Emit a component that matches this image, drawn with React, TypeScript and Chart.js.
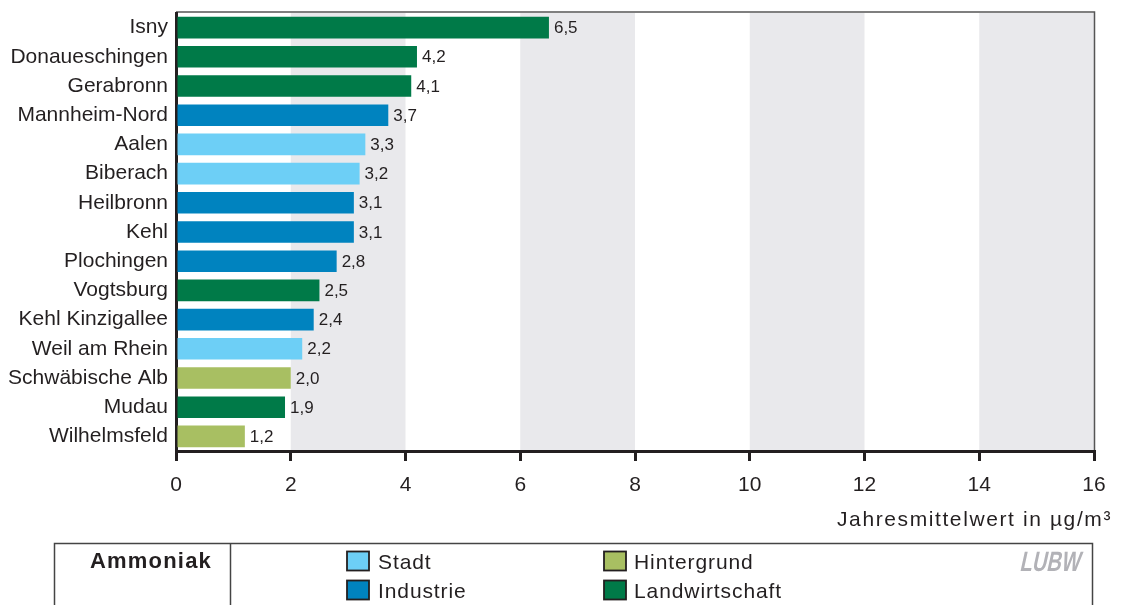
import React, { useEffect, useRef } from "react";
import { Chart, registerables } from "chart.js";

Chart.register(...registerables);

// Stations and annual mean ammonia concentrations
const stations = [
  "Isny",
  "Donaueschingen",
  "Gerabronn",
  "Mannheim-Nord",
  "Aalen",
  "Biberach",
  "Heilbronn",
  "Kehl",
  "Plochingen",
  "Vogtsburg",
  "Kehl Kinzigallee",
  "Weil am Rhein",
  "Schwäbische Alb",
  "Mudau",
  "Wilhelmsfeld",
];
const values = [6.5, 4.2, 4.1, 3.7, 3.3, 3.2, 3.1, 3.1, 2.8, 2.5, 2.4, 2.2, 2.0, 1.9, 1.2];
const stationTypes = [
  "Landwirtschaft",
  "Landwirtschaft",
  "Landwirtschaft",
  "Industrie",
  "Stadt",
  "Stadt",
  "Industrie",
  "Industrie",
  "Industrie",
  "Landwirtschaft",
  "Industrie",
  "Stadt",
  "Hintergrund",
  "Landwirtschaft",
  "Hintergrund",
];

const typeColors: Record<string, string> = {
  Stadt: "#6dcff6",
  Industrie: "#0083bf",
  Hintergrund: "#a8bf62",
  Landwirtschaft: "#007a48",
};

// Shaded background stripes on the value axis
const bandStarts = [2, 6, 10, 14];
const bandEnds = [4, 8, 12, 16];

const xMin = 0;
const xMax = 16;
const xStep = 2;
const axisTitle = "Jahresmittelwert in µg/m³";
const legendTitle = "Ammoniak";
const legendColumns = [
  ["Stadt", "Industrie"],
  ["Hintergrund", "Landwirtschaft"],
];

const FONT = "'Liberation Sans', Arial, sans-serif";
const INK = "#231f20";

const decorPlugin = {
  id: "decor",
  beforeDraw(chart: any) {
    const { ctx, chartArea, scales } = chart;
    const x = scales.x;
    ctx.save();
    ctx.fillStyle = "#e9e9ec";
    bandStarts.forEach((s, i) => {
      const x0 = x.getPixelForValue(s);
      const x1 = x.getPixelForValue(bandEnds[i]);
      ctx.fillRect(x0, chartArea.top, x1 - x0, chartArea.bottom - chartArea.top);
    });
    // thin frame on top and right
    ctx.strokeStyle = "#555";
    ctx.lineWidth = 1.5;
    ctx.beginPath();
    ctx.moveTo(chartArea.left, chartArea.top - 1);
    ctx.lineTo(chartArea.right + 0.5, chartArea.top - 1);
    ctx.lineTo(chartArea.right + 0.5, chartArea.bottom);
    ctx.stroke();
    ctx.restore();
  },
  afterDatasetsDraw(chart: any) {
    const { ctx } = chart;
    const meta = chart.getDatasetMeta(0);
    ctx.save();
    ctx.font = `17px ${FONT}`;
    ctx.fillStyle = INK;
    ctx.textBaseline = "middle";
    ctx.textAlign = "left";
    meta.data.forEach((bar: any, i: number) => {
      const txt = values[i].toFixed(1).replace(".", ",");
      ctx.fillText(txt, bar.x + 5, bar.y + 1);
    });
    ctx.restore();
  },
  afterDraw(chart: any) {
    const { ctx } = chart;
    ctx.save();
    // axis title, right aligned under the axis
    ctx.font = `21px ${FONT}`;
    (ctx as any).letterSpacing = "1.6px";
    ctx.fillStyle = INK;
    ctx.textAlign = "right";
    ctx.textBaseline = "middle";
    ctx.fillText(axisTitle, 1112, 520);

    // legend box
    const boxL = 54.5;
    const boxR = 1092.5;
    const boxT = 543.5;
    const boxB = 640;
    ctx.strokeStyle = "#444";
    ctx.lineWidth = 1.5;
    ctx.strokeRect(boxL, boxT, boxR - boxL, boxB - boxT);
    ctx.beginPath();
    ctx.moveTo(230.5, boxT);
    ctx.lineTo(230.5, boxB);
    ctx.stroke();

    ctx.font = `bold 22px ${FONT}`;
    (ctx as any).letterSpacing = "1.2px";
    ctx.textAlign = "center";
    ctx.fillText(legendTitle, 151, 562);

    ctx.font = `21px ${FONT}`;
    (ctx as any).letterSpacing = "0.9px";
    ctx.textAlign = "left";
    const colX = [347, 604];
    const rowY = [561, 590];
    legendColumns.forEach((col, ci) => {
      col.forEach((name, ri) => {
        const sx = colX[ci];
        const sy = rowY[ri] - 9.5;
        ctx.fillStyle = typeColors[name];
        ctx.fillRect(sx, sy, 22, 19);
        ctx.strokeStyle = INK;
        ctx.lineWidth = 1.8;
        ctx.strokeRect(sx, sy, 22, 19);
        ctx.fillStyle = INK;
        ctx.fillText(name, 378 + (colX[ci] - colX[0]) - 1 * ci, rowY[ri] + 2);
      });
    });

    // LUBW mark
    (ctx as any).letterSpacing = "0px";
    ctx.save();
    ctx.translate(1051, 563);
    ctx.transform(1, 0, -0.22, 1, 0, 0);
    ctx.scale(1.0, 1.4);
    ctx.font = `bold 20px ${FONT}`;
    ctx.fillStyle = "#b2b2b7";
    ctx.textAlign = "center";
    ctx.textBaseline = "middle";
    ctx.fillText("LUBW", 0, 0);
    ctx.restore();

    ctx.restore();
  },
};

export default function App() {
  const ref = useRef<HTMLCanvasElement | null>(null);

  useEffect(() => {
    document.body.style.margin = "0";
    const canvas = ref.current;
    if (!canvas) return;
    const chart = new Chart(canvas, {
      type: "bar",
      data: {
        labels: stations,
        datasets: [
          {
            data: values,
            backgroundColor: stationTypes.map((t) => typeColors[t]),
            borderWidth: 0,
            barPercentage: 0.74,
            categoryPercentage: 1,
          },
        ],
      },
      options: {
        indexAxis: "y",
        responsive: false,
        animation: false,
        devicePixelRatio: 1,
        layout: { padding: { top: 13, right: 28, bottom: 74, left: 0 } },
        plugins: {
          legend: { display: false },
          tooltip: { enabled: false },
        },
        scales: {
          x: {
            min: xMin,
            max: xMax,
            ticks: {
              stepSize: xStep,
              color: INK,
              font: { family: FONT, size: 21 },
              padding: 12,
            },
            grid: {
              drawOnChartArea: false,
              drawTicks: true,
              tickLength: 10,
              color: INK,
              lineWidth: 3,
            },
            border: { display: true, color: INK, width: 3 },
            afterFit(scale: any) {
              scale.height = 80;
            },
          },
          y: {
            ticks: {
              color: INK,
              font: { family: FONT, size: 21 },
              padding: 8,
              autoSkip: false,
            },
            grid: { display: false, drawTicks: false },
            border: { display: true, color: INK, width: 3 },
            afterFit(scale: any) {
              scale.width = 176;
              scale.paddingTop = 0;
              scale.paddingBottom = 0;
            },
          },
        },
      },
      plugins: [decorPlugin],
    });
    return () => chart.destroy();
  }, []);

  return <canvas ref={ref} width={1122} height={605} style={{ display: "block" }} />;
}
